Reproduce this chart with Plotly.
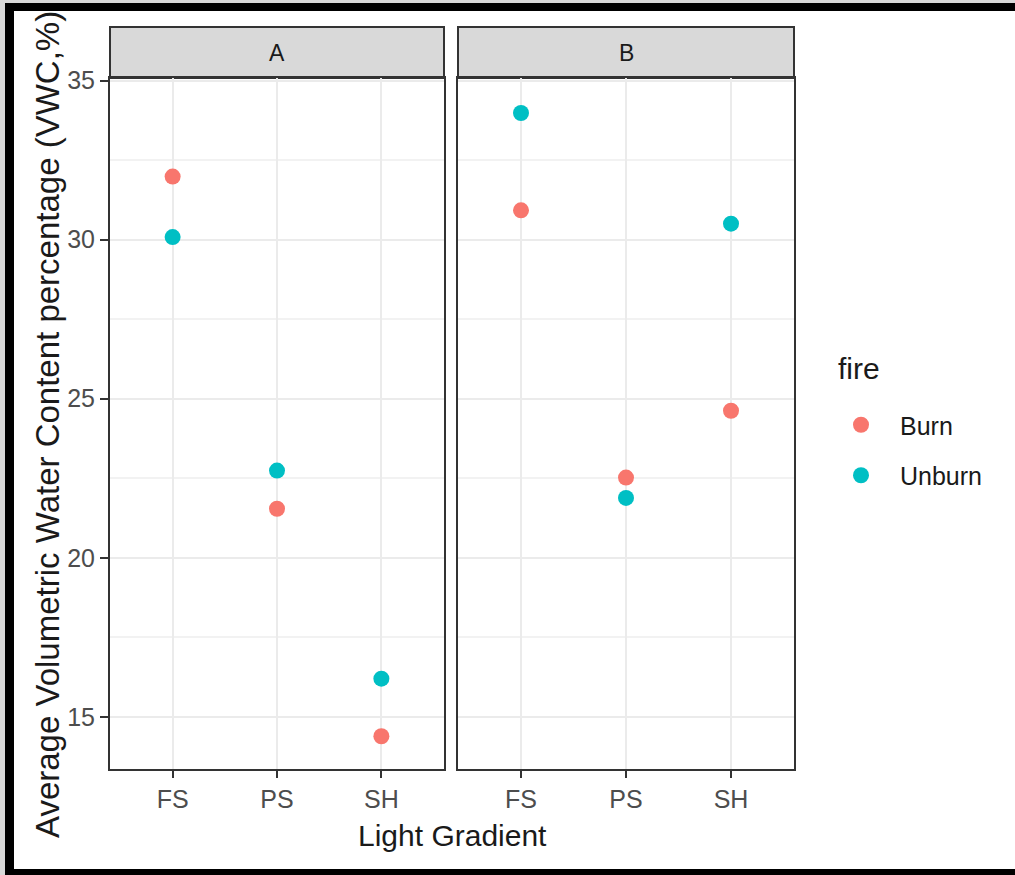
import plotly.graph_objects as go

# ---- data ----
categories = ["FS", "PS", "SH"]
panels = ["A", "B"]
burn_A = [31.98, 21.54, 14.39]
unburn_A = [30.08, 22.74, 16.20]
burn_B = [30.92, 22.52, 24.62]
unburn_B = [33.98, 21.88, 30.50]
y_ticks = [15, 20, 25, 30, 35]

W, H = 1015, 875
def px(x): return x / W
def py(y): return (H - y) / H

BURN = "#F8766D"
UNBURN = "#00BFC4"
FONT = "Liberation Sans, Arial, sans-serif"

fig = go.Figure()
series = [
    ("x", "y", burn_A, unburn_A, True),
    ("x2", "y2", burn_B, unburn_B, False),
]
for xa, ya, b, u, show in series:
    fig.add_trace(go.Scatter(x=categories, y=b, mode="markers", name="Burn",
                             marker=dict(color=BURN, size=16), xaxis=xa, yaxis=ya,
                             legendgroup="Burn", showlegend=show))
    fig.add_trace(go.Scatter(x=categories, y=u, mode="markers", name="Unburn",
                             marker=dict(color=UNBURN, size=16), xaxis=xa, yaxis=ya,
                             legendgroup="Unburn", showlegend=show))

yrange = [13.36, 35.08]
common_x = dict(type="category", categoryorder="array", categoryarray=categories,
                range=[-0.6, 2.6], showgrid=True, gridcolor="#EBEBEB", gridwidth=2,
                showline=True, linecolor="#333333", linewidth=2, mirror=True,
                ticks="outside", ticklen=7, tickwidth=2, tickcolor="#333333",
                tickfont=dict(family=FONT, size=25, color="#4D4D4D"), zeroline=False,
                automargin=False)
common_y = dict(range=yrange, tickvals=y_ticks, showgrid=True, gridcolor="#EBEBEB",
                gridwidth=2, showline=True, linecolor="#333333", linewidth=2, mirror=True,
                zeroline=False, automargin=False,
                minor=dict(dtick=2.5, tick0=0, showgrid=True, gridcolor="#F2F2F2", gridwidth=1.5))

fig.update_layout(
    width=W, height=H,
    margin=dict(l=0, r=0, t=0, b=0, autoexpand=False),
    paper_bgcolor="white", plot_bgcolor="white",
    xaxis=dict(domain=[px(110), px(444)], anchor="y", **common_x),
    xaxis2=dict(domain=[px(458), px(794)], anchor="y2", **common_x),
    yaxis=dict(domain=[py(769), py(78)], anchor="x", ticks="outside", ticklen=8, tickwidth=2,
               tickcolor="#333333", tickfont=dict(family=FONT, size=25, color="#4D4D4D"),
               **common_y),
    yaxis2=dict(domain=[py(769), py(78)], anchor="x2", matches="y", showticklabels=False,
                ticks="", **common_y),
    legend=dict(x=px(822), y=py(402), xanchor="left", yanchor="top",
                font=dict(family=FONT, size=25, color="#1A1A1A"),
                itemwidth=68, tracegroupgap=15, bgcolor="rgba(0,0,0,0)"),
    showlegend=True,
)

shapes = []
# facet strips
for x0, x1 in [(110, 444), (458, 794)]:
    shapes.append(dict(type="rect", xref="paper", yref="paper", x0=px(x0), x1=px(x1),
                       y0=py(78), y1=py(27), fillcolor="#D9D9D9",
                       line=dict(color="#333333", width=2), layer="below"))
# outer frame (screenshot border)
shapes.append(dict(type="rect", xref="paper", yref="paper", x0=0, x1=px(5), y0=0, y1=1,
                   fillcolor="#D8D8D8", line=dict(width=0)))
shapes.append(dict(type="rect", xref="paper", yref="paper", x0=0, x1=1, y0=py(3), y1=1,
                   fillcolor="#D8D8D8", line=dict(width=0)))
shapes.append(dict(type="rect", xref="paper", yref="paper", x0=px(5), x1=px(14), y0=0, y1=py(3),
                   fillcolor="black", line=dict(width=0)))
shapes.append(dict(type="rect", xref="paper", yref="paper", x0=px(5), x1=1, y0=py(11), y1=py(3),
                   fillcolor="black", line=dict(width=0)))
shapes.append(dict(type="rect", xref="paper", yref="paper", x0=px(5), x1=1, y0=0, y1=py(869),
                   fillcolor="black", line=dict(width=0)))
fig.update_layout(shapes=shapes)

annotations = []
for label, (x0, x1) in zip(panels, [(110, 444), (458, 794)]):
    annotations.append(dict(text=label, xref="paper", yref="paper", x=px((x0 + x1) / 2),
                            y=py(53), xanchor="center", yanchor="middle", showarrow=False,
                            font=dict(family=FONT, size=23, color="#1A1A1A")))
annotations.append(dict(text="fire", xref="paper", yref="paper", x=px(836), y=py(368),
                        xanchor="left", yanchor="middle", showarrow=False,
                        font=dict(family=FONT, size=30, color="#1A1A1A")))
annotations.append(dict(text="Light Gradient", xref="paper", yref="paper", x=px(452),
                        y=py(835), xanchor="center", yanchor="middle", showarrow=False,
                        font=dict(family=FONT, size=30, color="#1A1A1A")))
annotations.append(dict(text="Average Volumetric Water Content percentage (VWC,%)",
                        xref="paper", yref="paper", x=px(47), y=py(425), textangle=-90,
                        xanchor="center", yanchor="middle", showarrow=False,
                        font=dict(family=FONT, size=33, color="#1A1A1A")))
fig.update_layout(annotations=annotations)

fig.write_html("out.html", config={"displayModeBar": False},
               post_script="document.body.style.margin='0px';")
